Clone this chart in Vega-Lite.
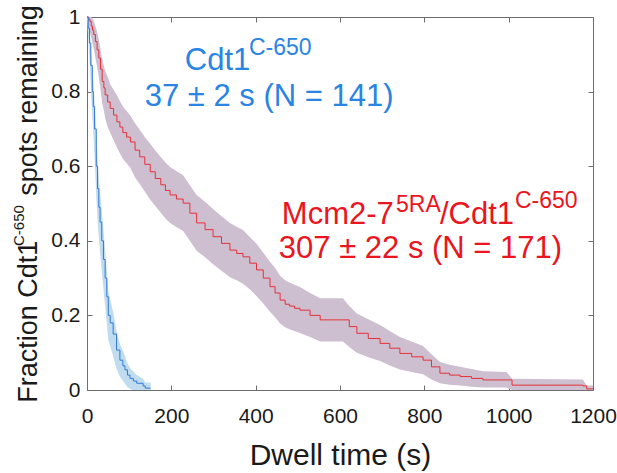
{
  "$schema": "https://vega.github.io/schema/vega-lite/v6.json",
  "width": 506,
  "height": 373,
  "autosize": {"type": "none"},
  "padding": {"left": 87, "top": 17, "right": 24, "bottom": 83},
  "background": "white",
  "config": {
    "font": "Liberation Sans",
    "view": {"stroke": null},
    "axis": {
      "grid": false,
      "domainColor": "#6e6e6e",
      "tickColor": "#6e6e6e",
      "tickSize": -5,
      "labelFlush": false,
      "labelFont": "Liberation Sans",
      "labelFontSize": 21,
      "labelColor": "#1a1a1a",
      "titleFont": "Liberation Sans",
      "titleFontWeight": "normal",
      "titleColor": "#1a1a1a"
    }
  },
  "datasets": {
    "km": [
      {"series": "Mcm", "t": 0, "S": 1, "lo": 1, "hi": 1},
      {"series": "Mcm", "t": 4, "S": 0.994, "lo": 0.975, "hi": 1},
      {"series": "Mcm", "t": 7, "S": 0.988, "lo": 0.96, "hi": 1},
      {"series": "Mcm", "t": 10, "S": 0.976, "lo": 0.945, "hi": 1},
      {"series": "Mcm", "t": 13, "S": 0.965, "lo": 0.93, "hi": 0.995},
      {"series": "Mcm", "t": 16, "S": 0.953, "lo": 0.915, "hi": 0.99},
      {"series": "Mcm", "t": 20, "S": 0.934, "lo": 0.89, "hi": 0.975},
      {"series": "Mcm", "t": 24, "S": 0.912, "lo": 0.865, "hi": 0.96},
      {"series": "Mcm", "t": 28, "S": 0.89, "lo": 0.84, "hi": 0.94},
      {"series": "Mcm", "t": 32, "S": 0.86, "lo": 0.805, "hi": 0.915},
      {"series": "Mcm", "t": 36, "S": 0.827, "lo": 0.77, "hi": 0.885},
      {"series": "Mcm", "t": 40, "S": 0.81, "lo": 0.75, "hi": 0.87},
      {"series": "Mcm", "t": 43, "S": 0.791, "lo": 0.73, "hi": 0.855},
      {"series": "Mcm", "t": 49, "S": 0.772, "lo": 0.705, "hi": 0.84},
      {"series": "Mcm", "t": 55, "S": 0.755, "lo": 0.69, "hi": 0.82},
      {"series": "Mcm", "t": 63, "S": 0.737, "lo": 0.67, "hi": 0.805},
      {"series": "Mcm", "t": 71, "S": 0.719, "lo": 0.65, "hi": 0.79},
      {"series": "Mcm", "t": 78, "S": 0.705, "lo": 0.635, "hi": 0.775},
      {"series": "Mcm", "t": 85, "S": 0.69, "lo": 0.62, "hi": 0.76},
      {"series": "Mcm", "t": 94, "S": 0.678, "lo": 0.608, "hi": 0.748},
      {"series": "Mcm", "t": 103, "S": 0.665, "lo": 0.595, "hi": 0.735},
      {"series": "Mcm", "t": 114, "S": 0.643, "lo": 0.57, "hi": 0.715},
      {"series": "Mcm", "t": 125, "S": 0.625, "lo": 0.552, "hi": 0.698},
      {"series": "Mcm", "t": 137, "S": 0.605, "lo": 0.532, "hi": 0.678},
      {"series": "Mcm", "t": 150, "S": 0.585, "lo": 0.51, "hi": 0.66},
      {"series": "Mcm", "t": 162, "S": 0.567, "lo": 0.493, "hi": 0.642},
      {"series": "Mcm", "t": 175, "S": 0.55, "lo": 0.475, "hi": 0.625},
      {"series": "Mcm", "t": 186, "S": 0.535, "lo": 0.46, "hi": 0.61},
      {"series": "Mcm", "t": 197, "S": 0.523, "lo": 0.448, "hi": 0.598},
      {"series": "Mcm", "t": 212, "S": 0.512, "lo": 0.437, "hi": 0.587},
      {"series": "Mcm", "t": 228, "S": 0.501, "lo": 0.426, "hi": 0.576},
      {"series": "Mcm", "t": 244, "S": 0.474, "lo": 0.4, "hi": 0.549},
      {"series": "Mcm", "t": 260, "S": 0.448, "lo": 0.373, "hi": 0.523},
      {"series": "Mcm", "t": 280, "S": 0.43, "lo": 0.356, "hi": 0.505},
      {"series": "Mcm", "t": 299, "S": 0.411, "lo": 0.337, "hi": 0.485},
      {"series": "Mcm", "t": 319, "S": 0.393, "lo": 0.32, "hi": 0.466},
      {"series": "Mcm", "t": 339, "S": 0.375, "lo": 0.302, "hi": 0.448},
      {"series": "Mcm", "t": 355, "S": 0.366, "lo": 0.294, "hi": 0.438},
      {"series": "Mcm", "t": 370, "S": 0.357, "lo": 0.285, "hi": 0.429},
      {"series": "Mcm", "t": 386, "S": 0.34, "lo": 0.27, "hi": 0.41},
      {"series": "Mcm", "t": 402, "S": 0.322, "lo": 0.252, "hi": 0.392},
      {"series": "Mcm", "t": 418, "S": 0.3, "lo": 0.232, "hi": 0.368},
      {"series": "Mcm", "t": 434, "S": 0.277, "lo": 0.21, "hi": 0.344},
      {"series": "Mcm", "t": 446, "S": 0.26, "lo": 0.195, "hi": 0.327},
      {"series": "Mcm", "t": 458, "S": 0.241, "lo": 0.178, "hi": 0.306},
      {"series": "Mcm", "t": 470, "S": 0.23, "lo": 0.168, "hi": 0.294},
      {"series": "Mcm", "t": 480, "S": 0.225, "lo": 0.163, "hi": 0.288},
      {"series": "Mcm", "t": 492, "S": 0.219, "lo": 0.158, "hi": 0.282},
      {"series": "Mcm", "t": 505, "S": 0.214, "lo": 0.153, "hi": 0.276},
      {"series": "Mcm", "t": 529, "S": 0.2, "lo": 0.142, "hi": 0.26},
      {"series": "Mcm", "t": 553, "S": 0.188, "lo": 0.13, "hi": 0.246},
      {"series": "Mcm", "t": 580, "S": 0.188, "lo": 0.13, "hi": 0.246},
      {"series": "Mcm", "t": 607, "S": 0.188, "lo": 0.13, "hi": 0.246},
      {"series": "Mcm", "t": 622, "S": 0.17, "lo": 0.115, "hi": 0.225},
      {"series": "Mcm", "t": 640, "S": 0.152, "lo": 0.1, "hi": 0.205},
      {"series": "Mcm", "t": 667, "S": 0.138, "lo": 0.088, "hi": 0.19},
      {"series": "Mcm", "t": 695, "S": 0.125, "lo": 0.078, "hi": 0.174},
      {"series": "Mcm", "t": 718, "S": 0.112, "lo": 0.066, "hi": 0.158},
      {"series": "Mcm", "t": 742, "S": 0.098, "lo": 0.055, "hi": 0.142},
      {"series": "Mcm", "t": 770, "S": 0.089, "lo": 0.048, "hi": 0.13},
      {"series": "Mcm", "t": 797, "S": 0.08, "lo": 0.042, "hi": 0.118},
      {"series": "Mcm", "t": 817, "S": 0.062, "lo": 0.028, "hi": 0.096},
      {"series": "Mcm", "t": 837, "S": 0.045, "lo": 0.018, "hi": 0.075},
      {"series": "Mcm", "t": 860, "S": 0.04, "lo": 0.014, "hi": 0.068},
      {"series": "Mcm", "t": 885, "S": 0.036, "lo": 0.012, "hi": 0.062},
      {"series": "Mcm", "t": 912, "S": 0.031, "lo": 0.009, "hi": 0.056},
      {"series": "Mcm", "t": 939, "S": 0.027, "lo": 0.007, "hi": 0.05},
      {"series": "Mcm", "t": 995, "S": 0.027, "lo": 0.007, "hi": 0.048},
      {"series": "Mcm", "t": 1008, "S": 0.013, "lo": 0, "hi": 0.03},
      {"series": "Mcm", "t": 1176, "S": 0.011, "lo": 0, "hi": 0.028},
      {"series": "Mcm", "t": 1185, "S": 0.003, "lo": 0, "hi": 0.012},
      {"series": "Mcm", "t": 1200, "S": 0.003, "lo": 0, "hi": 0.012},
      {"series": "Cdt1", "t": 0, "S": 1, "lo": 1, "hi": 1},
      {"series": "Cdt1", "t": 3, "S": 0.97, "lo": 0.942, "hi": 0.995},
      {"series": "Cdt1", "t": 6, "S": 0.93, "lo": 0.888, "hi": 0.97},
      {"series": "Cdt1", "t": 9, "S": 0.87, "lo": 0.815, "hi": 0.925},
      {"series": "Cdt1", "t": 12.6, "S": 0.8, "lo": 0.734, "hi": 0.866},
      {"series": "Cdt1", "t": 15, "S": 0.76, "lo": 0.69, "hi": 0.83},
      {"series": "Cdt1", "t": 18, "S": 0.7, "lo": 0.624, "hi": 0.776},
      {"series": "Cdt1", "t": 22, "S": 0.6, "lo": 0.519, "hi": 0.681},
      {"series": "Cdt1", "t": 25, "S": 0.54, "lo": 0.458, "hi": 0.622},
      {"series": "Cdt1", "t": 28, "S": 0.49, "lo": 0.408, "hi": 0.572},
      {"series": "Cdt1", "t": 31, "S": 0.45, "lo": 0.368, "hi": 0.532},
      {"series": "Cdt1", "t": 35, "S": 0.4, "lo": 0.319, "hi": 0.481},
      {"series": "Cdt1", "t": 39, "S": 0.35, "lo": 0.271, "hi": 0.429},
      {"series": "Cdt1", "t": 43, "S": 0.3, "lo": 0.224, "hi": 0.376},
      {"series": "Cdt1", "t": 47, "S": 0.25, "lo": 0.179, "hi": 0.321},
      {"series": "Cdt1", "t": 50.5, "S": 0.2, "lo": 0.134, "hi": 0.266},
      {"series": "Cdt1", "t": 55, "S": 0.18, "lo": 0.117, "hi": 0.243},
      {"series": "Cdt1", "t": 62, "S": 0.15, "lo": 0.091, "hi": 0.209},
      {"series": "Cdt1", "t": 70, "S": 0.107, "lo": 0.056, "hi": 0.158},
      {"series": "Cdt1", "t": 78, "S": 0.08, "lo": 0.036, "hi": 0.124},
      {"series": "Cdt1", "t": 85, "S": 0.065, "lo": 0.025, "hi": 0.105},
      {"series": "Cdt1", "t": 90, "S": 0.054, "lo": 0.017, "hi": 0.091},
      {"series": "Cdt1", "t": 96, "S": 0.04, "lo": 0.008, "hi": 0.072},
      {"series": "Cdt1", "t": 102, "S": 0.031, "lo": 0.003, "hi": 0.059},
      {"series": "Cdt1", "t": 110, "S": 0.024, "lo": 0, "hi": 0.049},
      {"series": "Cdt1", "t": 118, "S": 0.018, "lo": 0, "hi": 0.04},
      {"series": "Cdt1", "t": 133, "S": 0.011, "lo": 0, "hi": 0.03},
      {"series": "Cdt1", "t": 138, "S": 0.005, "lo": 0, "hi": 0.02},
      {"series": "Cdt1", "t": 151, "S": 0.005, "lo": 0, "hi": 0.02}
    ]
  },
  "layer": [
    {
      "layer": [
        {
          "data": {"name": "km"},
          "transform": [{"filter": "datum.series === 'Mcm'"}],
          "mark": {"type": "area", "interpolate": "linear", "color": "#cdbfcf"},
          "encoding": {
            "x": {"field": "t", "type": "quantitative", "scale": {"domain": [0, 1200], "nice": false}, "axis": null},
            "y": {"field": "lo", "type": "quantitative", "scale": {"domain": [0, 1], "nice": false}, "axis": null},
            "y2": {"field": "hi"}
          }
        },
        {
          "data": {"name": "km"},
          "transform": [{"filter": "datum.series === 'Cdt1'"}],
          "mark": {"type": "area", "interpolate": "linear", "color": "#c0dcef"},
          "encoding": {
            "x": {"field": "t", "type": "quantitative", "scale": {"domain": [0, 1200], "nice": false}, "axis": null},
            "y": {"field": "lo", "type": "quantitative", "scale": {"domain": [0, 1], "nice": false}, "axis": null},
            "y2": {"field": "hi"}
          }
        },
        {
          "data": {"name": "km"},
          "transform": [{"filter": "datum.series === 'Mcm'"}],
          "mark": {"type": "line", "interpolate": "step-after", "color": "#e6303a", "strokeWidth": 1},
          "encoding": {
            "x": {"field": "t", "type": "quantitative", "scale": {"domain": [0, 1200], "nice": false}, "axis": null},
            "y": {"field": "S", "type": "quantitative", "scale": {"domain": [0, 1], "nice": false}, "axis": null}
          }
        },
        {
          "data": {"name": "km"},
          "transform": [{"filter": "datum.series === 'Cdt1'"}],
          "mark": {"type": "line", "interpolate": "step-after", "color": "#3478d4", "strokeWidth": 1},
          "encoding": {
            "x": {"field": "t", "type": "quantitative", "scale": {"domain": [0, 1200], "nice": false}, "axis": null},
            "y": {"field": "S", "type": "quantitative", "scale": {"domain": [0, 1], "nice": false}, "axis": null}
          }
        },
        {
          "data": {"values": [{}]},
          "mark": {"type": "text", "text": "Cdt1", "fontSize": 31, "color": "#2a84e4", "align": "left", "baseline": "alphabetic"},
          "encoding": {"x": {"datum": 232, "type": "quantitative", "axis": null}, "y": {"datum": 0.858, "type": "quantitative", "axis": null}}
        },
        {
          "data": {"values": [{}]},
          "mark": {"type": "text", "text": "C-650", "fontSize": 23, "color": "#2a84e4", "align": "left", "baseline": "alphabetic"},
          "encoding": {"x": {"datum": 384, "type": "quantitative", "axis": null}, "y": {"datum": 0.898, "type": "quantitative", "axis": null}}
        },
        {
          "data": {"values": [{}]},
          "mark": {"type": "text", "text": "37 ± 2 s (N = 141)", "fontSize": 31, "color": "#2a84e4", "align": "left", "baseline": "alphabetic"},
          "encoding": {"x": {"datum": 137, "type": "quantitative", "axis": null}, "y": {"datum": 0.761, "type": "quantitative", "axis": null}}
        },
        {
          "data": {"values": [{}]},
          "mark": {"type": "text", "text": "Mcm2-7", "fontSize": 31, "color": "#ea1520", "align": "left", "baseline": "alphabetic"},
          "encoding": {"x": {"datum": 462, "type": "quantitative", "axis": null}, "y": {"datum": 0.445, "type": "quantitative", "axis": null}}
        },
        {
          "data": {"values": [{}]},
          "mark": {"type": "text", "text": "5RA", "fontSize": 23, "color": "#ea1520", "align": "left", "baseline": "alphabetic"},
          "encoding": {"x": {"datum": 733, "type": "quantitative", "axis": null}, "y": {"datum": 0.477, "type": "quantitative", "axis": null}}
        },
        {
          "data": {"values": [{}]},
          "mark": {"type": "text", "text": "/Cdt1", "fontSize": 31, "color": "#ea1520", "align": "left", "baseline": "alphabetic"},
          "encoding": {"x": {"datum": 837, "type": "quantitative", "axis": null}, "y": {"datum": 0.445, "type": "quantitative", "axis": null}}
        },
        {
          "data": {"values": [{}]},
          "mark": {"type": "text", "text": "C-650", "fontSize": 23, "color": "#ea1520", "align": "left", "baseline": "alphabetic"},
          "encoding": {"x": {"datum": 1015, "type": "quantitative", "axis": null}, "y": {"datum": 0.487, "type": "quantitative", "axis": null}}
        },
        {
          "data": {"values": [{}]},
          "mark": {"type": "text", "text": "307 ± 22 s (N = 171)", "fontSize": 31, "color": "#ea1520", "align": "left", "baseline": "alphabetic"},
          "encoding": {"x": {"datum": 455, "type": "quantitative", "axis": null}, "y": {"datum": 0.354, "type": "quantitative", "axis": null}}
        },
        {
          "data": {"values": [{}]},
          "mark": {"type": "text", "text": "C-650", "fontSize": 15, "color": "#1a1a1a", "align": "left", "baseline": "alphabetic", "angle": 270},
          "encoding": {"x": {"datum": -149, "type": "quantitative", "axis": null}, "y": {"datum": 0.386, "type": "quantitative", "axis": null}}
        }
      ]
    },
    {
      "data": {"name": "km"},
      "mark": {"type": "point", "opacity": 0},
      "encoding": {
        "x": {
          "field": "t", "type": "quantitative",
          "scale": {"domain": [0, 1200], "nice": false},
          "axis": {
            "orient": "bottom",
            "values": [0, 200, 400, 600, 800, 1000, 1200],
            "format": "d",
            "labelPadding": 20,
            "title": "Dwell time (s)",
            "titleFontSize": 30,
            "titlePadding": 14
          }
        },
        "y": {
          "field": "S", "type": "quantitative",
          "scale": {"domain": [0, 1], "nice": false},
          "axis": {
            "orient": "left",
            "values": [0, 0.2, 0.4, 0.6, 0.8, 1],
            "format": "~g",
            "labelPadding": 12,
            "title": "Fraction Cdt1\u00a0\u00a0\u00a0\u00a0\u00a0\u00a0spots remaining",
            "titleFontSize": 27,
            "titlePadding": 8
          }
        }
      }
    },
    {
      "data": {"name": "km"},
      "mark": {"type": "point", "opacity": 0},
      "encoding": {
        "x": {
          "field": "t", "type": "quantitative",
          "scale": {"domain": [0, 1200], "nice": false},
          "axis": {"orient": "top", "values": [0, 200, 400, 600, 800, 1000, 1200], "labels": false, "title": null}
        },
        "y": {
          "field": "S", "type": "quantitative",
          "scale": {"domain": [0, 1], "nice": false},
          "axis": {"orient": "right", "values": [0, 0.2, 0.4, 0.6, 0.8, 1], "labels": false, "title": null}
        }
      }
    }
  ],
  "resolve": {"axis": {"x": "independent", "y": "independent"}}
}
